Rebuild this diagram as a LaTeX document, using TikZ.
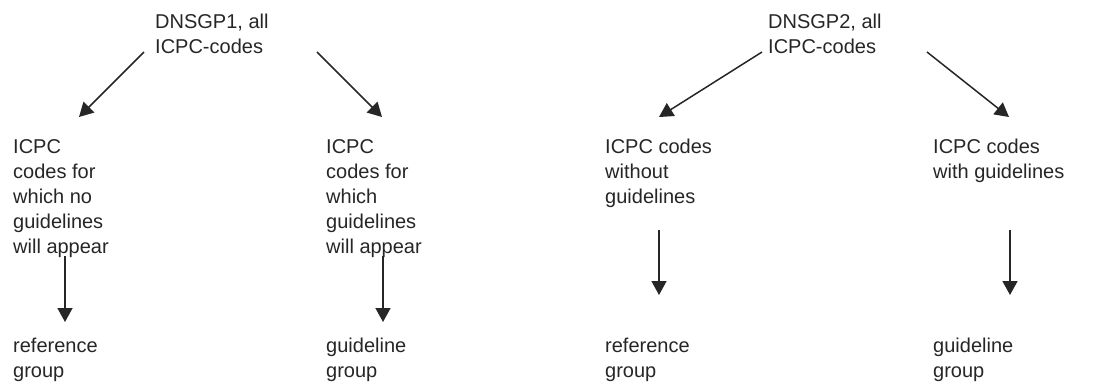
\documentclass[tikz,border=0pt]{standalone}
\usepackage{fontspec}
\setmainfont{Liberation Sans}
\usetikzlibrary{arrows.meta}
\begin{document}
\begin{tikzpicture}[x=1pt,y=-1pt,
  lbl/.style={anchor=base west,inner sep=0pt,align=left,font=\fontsize{20}{25}\selectfont,text=black!85},
  arr/.style={line width=1.5pt,draw=black!85,-{Triangle[length=14pt,width=15pt]}}]
\useasboundingbox (0,0) rectangle (1099,381);
% texts (anchor = baseline of the last line)
\node[lbl] (d1) at (155,53) {DNSGP1, all\\ICPC-codes};
\node[lbl] (d2) at (768,53) {DNSGP2, all\\ICPC-codes};
\node[lbl] (c1) at (13,253) {ICPC\\codes for\\which no\\guidelines\\will appear};
\node[lbl] (c2) at (326,253) {ICPC\\codes for\\which\\guidelines\\will appear};
\node[lbl] (c3) at (605,203) {ICPC codes\\without\\guidelines};
\node[lbl] (c4) at (933,178) {ICPC codes\\with guidelines};
\node[lbl] (r1) at (13,377) {reference\\group};
\node[lbl] (r2) at (326,377) {guideline\\group};
\node[lbl] (r3) at (605,377) {reference\\group};
\node[lbl] (r4) at (933,377) {guideline\\group};
% connector end points
\coordinate (a1s) at (144,52);  \coordinate (a1e) at (79,117);
\coordinate (a2s) at (317,52);  \coordinate (a2e) at (382,117);
\coordinate (a3s) at (65,256);  \coordinate (a3e) at (65,322);
\coordinate (a4s) at (383,256); \coordinate (a4e) at (383,322);
\coordinate (a5s) at (762,52);  \coordinate (a5e) at (659,117);
\coordinate (a6s) at (927,52);  \coordinate (a6e) at (1009,117);
\coordinate (a7s) at (659,230); \coordinate (a7e) at (659,295);
\coordinate (a8s) at (1010,230);\coordinate (a8e) at (1010,295);
\draw[arr] (a1s) -- (a1e);
\draw[arr] (a2s) -- (a2e);
\draw[arr] (a3s) -- (a3e);
\draw[arr] (a4s) -- (a4e);
\draw[arr] (a5s) -- (a5e);
\draw[arr] (a6s) -- (a6e);
\draw[arr] (a7s) -- (a7e);
\draw[arr] (a8s) -- (a8e);
\end{tikzpicture}
\end{document}
